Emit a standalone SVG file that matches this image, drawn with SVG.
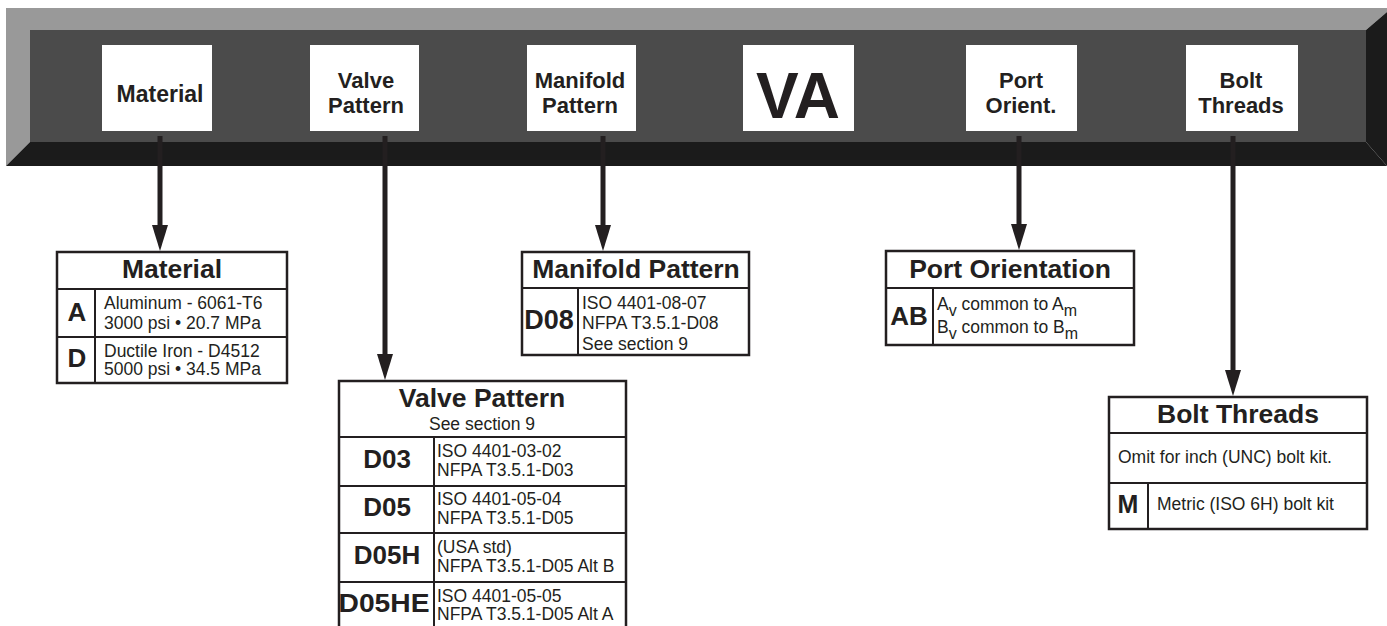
<svg xmlns="http://www.w3.org/2000/svg" width="1387" height="626" viewBox="0 0 1387 626">
<style>
text{font-family:"Liberation Sans",Arial,sans-serif;fill:#231f20}
.lbl{font-size:22px;font-weight:bold;text-anchor:middle}
.ttl{font-size:26.5px;font-weight:bold;text-anchor:middle}
.code{font-size:26px;font-weight:bold;text-anchor:middle}
.val{font-size:17.5px}
.tbl{fill:#fff;stroke:#231f20;stroke-width:2.5}
.div{stroke:#231f20;stroke-width:2;fill:none}
.box{fill:#fff}
.conn{stroke:#231f20;stroke-width:5;fill:none}
</style>
<defs>
<marker id="arr" markerUnits="userSpaceOnUse" markerWidth="27" markerHeight="16" refX="2" refY="8" orient="auto">
<path d="M0,0 L26,8 L0,16 Z" fill="#231f20"/>
</marker>
</defs>
<g id="bar">
<polygon points="6,8 1387,8 1387,12 1366,30 30,30 30,142 6,166" fill="#999"/>
<polygon points="1366,30 1387,12 1387,166 1366,142" fill="#1b1b1b"/>
<polygon points="6,166 30,142 1366,142 1387,166" fill="#1b1b1b"/>
<rect x="30" y="30" width="1336" height="112" fill="#4b4b4b"/>
</g>
<g id="hdr-material"><rect class="box" x="102" y="45" width="110" height="86"/><text class="lbl" x="160" y="102" style="font-size:23px">Material</text></g>
<g id="hdr-valve"><rect class="box" x="310" y="45" width="109" height="86"/><text class="lbl" x="366" y="88">Valve</text><text class="lbl" x="366" y="113">Pattern</text></g>
<g id="hdr-manifold"><rect class="box" x="527" y="45" width="109" height="86"/><text class="lbl" x="580" y="88">Manifold</text><text class="lbl" x="580" y="113">Pattern</text></g>
<g id="hdr-va"><rect class="box" x="743" y="45" width="111" height="86"/><text x="798" y="118" style="font-size:64px;font-weight:bold;text-anchor:middle">VA</text></g>
<g id="hdr-port"><rect class="box" x="966" y="45" width="111" height="86"/><text class="lbl" x="1021" y="88">Port</text><text class="lbl" x="1021" y="113">Orient.</text></g>
<g id="hdr-bolt"><rect class="box" x="1186" y="45" width="112" height="86"/><text class="lbl" x="1241" y="88">Bolt</text><text class="lbl" x="1241" y="113">Threads</text></g>
<g id="connectors">
<line class="conn" x1="160" y1="136" x2="160" y2="227" marker-end="url(#arr)"/>
<line class="conn" x1="385" y1="136" x2="385" y2="356" marker-end="url(#arr)"/>
<line class="conn" x1="603" y1="136" x2="603" y2="227" marker-end="url(#arr)"/>
<line class="conn" x1="1019" y1="136" x2="1019" y2="226" marker-end="url(#arr)"/>
<line class="conn" x1="1233" y1="136" x2="1233" y2="372" marker-end="url(#arr)"/>
</g>
<g id="tbl-material">
<rect class="tbl" x="57" y="252" width="230" height="131"/>
<path class="div" d="M57,289 H287 M57,337 H287 M95,289 V383"/>
<text class="ttl" x="172" y="278">Material</text>
<text class="code" x="77" y="321">A</text>
<text class="val" x="104" y="309">Aluminum - 6061-T6</text>
<text class="val" x="104" y="329">3000 psi • 20.7 MPa</text>
<text class="code" x="77" y="367">D</text>
<text class="val" x="104" y="357">Ductile Iron - D4512</text>
<text class="val" x="104" y="375">5000 psi • 34.5 MPa</text>
</g>
<g id="tbl-valve">
<rect class="tbl" x="339" y="381" width="287" height="250"/>
<path class="div" d="M339,437 H626 M339,486 H626 M339,533 H626 M339,582 H626 M434,437 V626"/>
<text class="ttl" x="482" y="407">Valve Pattern</text>
<text class="val" x="482" y="430" style="text-anchor:middle">See section 9</text>
<text class="code" x="387" y="468">D03</text>
<text class="val" x="437" y="457">ISO 4401-03-02</text>
<text class="val" x="437" y="476">NFPA T3.5.1-D03</text>
<text class="code" x="387" y="516">D05</text>
<text class="val" x="437" y="505">ISO 4401-05-04</text>
<text class="val" x="437" y="524">NFPA T3.5.1-D05</text>
<text class="code" x="387" y="564">D05H</text>
<text class="val" x="437" y="553">(USA std)</text>
<text class="val" x="437" y="572">NFPA T3.5.1-D05 Alt B</text>
<text class="code" x="384" y="612" textLength="91" lengthAdjust="spacingAndGlyphs">D05HE</text>
<text class="val" x="437" y="602">ISO 4401-05-05</text>
<text class="val" x="437" y="620">NFPA T3.5.1-D05 Alt A</text>
</g>
<g id="tbl-manifold">
<rect class="tbl" x="522" y="252" width="227" height="103"/>
<path class="div" d="M522,288 H749 M578,288 V355"/>
<text class="ttl" x="636" y="278">Manifold Pattern</text>
<text class="code" x="549" y="329" style="font-size:27px">D08</text>
<text class="val" x="582" y="309">ISO 4401-08-07</text>
<text class="val" x="582" y="329">NFPA T3.5.1-D08</text>
<text class="val" x="582" y="350">See section 9</text>
</g>
<g id="tbl-port">
<rect class="tbl" x="886" y="251" width="248" height="94"/>
<path class="div" d="M886,288 H1134 M933,288 V345"/>
<text class="ttl" x="1010" y="278">Port Orientation</text>
<text class="code" x="909" y="325">AB</text>
<text class="val" x="937" y="310">A<tspan dy="6" style="font-size:16px">v</tspan><tspan dy="-6"> common to A</tspan><tspan dy="6" style="font-size:16px">m</tspan></text>
<text class="val" x="937" y="333">B<tspan dy="6" style="font-size:16px">v</tspan><tspan dy="-6"> common to B</tspan><tspan dy="6" style="font-size:16px">m</tspan></text>
</g>
<g id="tbl-bolt">
<rect class="tbl" x="1109" y="397" width="258" height="132"/>
<path class="div" d="M1109,433 H1367 M1109,483 H1367 M1148,483 V529"/>
<text class="ttl" x="1238" y="423">Bolt Threads</text>
<text class="val" x="1118" y="463">Omit for inch (UNC) bolt kit.</text>
<text class="code" x="1128" y="513" style="font-size:25px">M</text>
<text class="val" x="1157" y="510">Metric (ISO 6H) bolt kit</text>
</g>
</svg>
